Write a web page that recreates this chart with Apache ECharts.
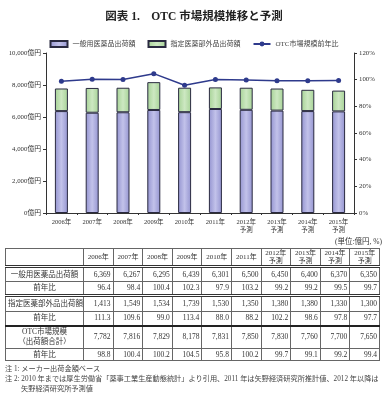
<!DOCTYPE html>
<html><head><meta charset="utf-8">
<script src="https://cdn.jsdelivr.net/npm/echarts@6/dist/echarts.min.js"></script>
<style>
html,body{margin:0;padding:0;background:#fff;width:388px;height:400px;overflow:hidden;}
#chart{position:absolute;left:0;top:0;width:388px;height:246px;}
#unit{position:absolute;right:6px;top:235px;font:7.5px 'Liberation Serif','Noto Sans CJK JP',serif;color:#333;white-space:nowrap;}
#tbl{position:absolute;left:5px;top:248px;border-collapse:collapse;table-layout:fixed;width:375px;
 font-family:'Liberation Serif','Noto Sans CJK JP',serif;font-size:7.5px;color:#333;border:1.5px solid #222;}
#tbl td{border:1px solid #666;padding:0 2px;line-height:8px;overflow:hidden;white-space:nowrap;}
#tbl td.num{text-align:right;}
#tbl td.lab{text-align:center;}
#tbl td.lab2{text-align:center;line-height:10px;}
#tbl td.hd{text-align:center;font-size:7px;}
#tbl tr.h td{border-bottom:3px double #333;}
#tbl tr.d2 td{border-bottom:3px double #333;}
#tbl tr.b4 td{border-bottom:2px solid #222;}
#notes{position:absolute;left:5px;top:364px;width:380px;font:7.2px 'Liberation Serif','Noto Sans CJK JP',serif;color:#444;line-height:10px;}
#notes div.n2{padding-left:16px;text-indent:-16px;}
</style></head>
<body>
<div id="chart"></div>
<div id="unit">(単位:億円, %)</div>
<table id="tbl"></table>
<div id="notes">
<div>注 1:  メーカー出荷金額ベース</div>
<div class="n2">注 2: 2010 年までは厚生労働省「薬事工業生産動態統計」より引用、2011 年は矢野経済研究所推計値、2012 年以降は矢野経済研究所予測値</div>
</div>
<script>
const years = ['2006年','2007年','2008年','2009年','2010年','2011年','2012年\n予測','2013年\n予測','2014年\n予測','2015年\n予測'];
const general = [6369,6267,6295,6439,6301,6500,6450,6400,6370,6350];
const generalYoY = [96.4,98.4,100.4,102.3,97.9,103.2,99.2,99.2,99.5,99.7];
const designated = [1413,1549,1534,1739,1530,1350,1380,1380,1330,1300];
const designatedYoY = [111.3,109.6,99.0,113.4,88.0,88.2,102.2,98.6,97.8,97.7];
const otcTotal = [7782,7816,7829,8178,7831,7850,7830,7760,7700,7650];
const otcYoY = [98.8,100.4,100.2,104.5,95.8,100.2,99.7,99.1,99.2,99.4];
const seriesNames = ['一般用医薬品出荷額','指定医薬部外品出荷額','OTC市場規模前年比'];

const FF = "'Liberation Serif','Noto Sans CJK JP',serif";
const chart = echarts.init(document.getElementById('chart'));
const grad = (a,b)=>new echarts.graphic.LinearGradient(0,0,1,0,[{offset:0,color:a},{offset:0.5,color:b},{offset:1,color:a}]);
chart.setOption({
  animation:false,
  textStyle:{fontFamily:FF},
  title:{text:'図表 1.　OTC 市場規模推移と予測',left:'center',top:6,
    textStyle:{fontFamily:FF,fontSize:11.5,fontWeight:'bold',color:'#222'}},
  legend:{top:35,left:'center',itemWidth:17,itemHeight:6,itemGap:12,
    textStyle:{fontFamily:FF,fontSize:7,color:'#444'},
    data:[{name:seriesNames[0],icon:'rect'},{name:seriesNames[1],icon:'rect'},{name:seriesNames[2]}]},
  grid:{left:46,right:34,top:53,bottom:33},
  xAxis:{type:'category',data:years,
    axisLine:{lineStyle:{color:'#333',width:1}},
    axisTick:{show:true,length:2,lineStyle:{color:'#333'}},
    axisLabel:{fontSize:6.5,color:'#333',lineHeight:8,margin:5,interval:0}},
  yAxis:[
    {type:'value',min:0,max:10000,interval:2000,
     axisLine:{show:true,lineStyle:{color:'#333'}},
     axisTick:{show:true,length:3,lineStyle:{color:'#333'}},
     splitLine:{show:false},
     axisLabel:{fontSize:6.8,color:'#333',margin:5,
       formatter:v=>v.toLocaleString('en-US')+'億円'}},
    {type:'value',min:0,max:120,interval:20,position:'right',
     axisLine:{show:true,lineStyle:{color:'#333'}},
     axisTick:{show:true,length:3,lineStyle:{color:'#333'}},
     splitLine:{show:false},
     axisLabel:{fontSize:6.8,color:'#333',margin:5,formatter:'{value}%'}}
  ],
  series:[
    {name:seriesNames[0],type:'bar',stack:'s',data:general,barWidth:13,
     itemStyle:{color:grad('#9494d0','#c2c2ea'),borderColor:'#2a2a40',borderWidth:1}},
    {name:seriesNames[1],type:'bar',stack:'s',data:designated,barWidth:13,
     itemStyle:{color:grad('#a6d296','#cde8c2'),borderColor:'#2a2a40',borderWidth:1}},
    {name:seriesNames[2],type:'line',yAxisIndex:1,data:otcYoY,symbol:'circle',symbolSize:5,
     lineStyle:{color:'#2e3a8c',width:1.5},itemStyle:{color:'#2e3a8c'}}
  ]
});

// Table built from the arrays
const fmt = v=>v.toLocaleString('en-US');
const f1 = v=>v.toFixed(1);
const tbl = document.getElementById('tbl');
let html = '<colgroup><col style="width:78px">'+years.map(()=>'<col>').join('')+'</colgroup>';
html += '<tr class="h" style="height:18px"><td></td>'+years.map(y=>'<td class="hd">'+y.replace('\n','<br>')+'</td>').join('')+'</tr>';
const rows = [
  {label:'一般用医薬品出荷額',vals:general.map(fmt),h:15,cls:'',lc:'lab'},
  {label:'前年比',vals:generalYoY.map(f1),h:14,cls:'d2',lc:'lab'},
  {label:'指定医薬部外品出荷額',vals:designated.map(fmt),h:16,cls:'',lc:'lab'},
  {label:'前年比',vals:designatedYoY.map(f1),h:14,cls:'b4',lc:'lab'},
  {label:'OTC市場規模<br>（出荷額合計）',vals:otcTotal.map(fmt),h:23,cls:'',lc:'lab2'},
  {label:'前年比',vals:otcYoY.map(f1),h:12,cls:'',lc:'lab'}
];
rows.forEach(r=>{
  html += '<tr class="'+r.cls+'" style="height:'+r.h+'px"><td class="'+r.lc+'">'+r.label+'</td>'+r.vals.map(v=>'<td class="num">'+v+'</td>').join('')+'</tr>';
});
tbl.innerHTML = html;
</script>
</body></html>
